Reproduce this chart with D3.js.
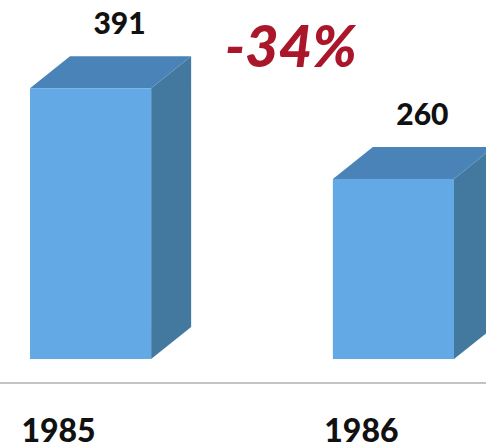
<!DOCTYPE html>
<html>
<head>
<meta charset="utf-8">
<script src="https://cdn.jsdelivr.net/npm/d3@7"></script>
<style>
  body { margin: 0; background: #fff; }
  text { font-family: Lato, "Open Sans", sans-serif; font-weight: 900; }
</style>
</head>
<body>
<script>
// data
const years = ["1985", "1986"];
const counts = [391, 260];
const changeLabel = "-34%";

let w = 486, h = 448;
let svg = d3.select("body").append("svg").attr("width", w).attr("height", h);

// depth of the 3d box
const dx = 40, dy = -32;
const floorY = 359;

const x = d3.scaleBand()
    .domain(years)
    .range([30, 454])
    .paddingInner(0.6)
    .paddingOuter(0);

const y = d3.scaleLinear()
    .domain([0, 400])
    .range([floorY, 82]);

const data = years.map((d, i) => ({ year: d, value: counts[i] }));

// axis line
svg.append("line")
    .attr("x1", 0).attr("x2", w)
    .attr("y1", 383).attr("y2", 383)
    .attr("stroke", "#c4c4c4")
    .attr("stroke-width", 2);

const bars = svg.selectAll(".bar")
    .data(data)
    .enter().append("g")
    .attr("class", "bar");

// side face
bars.append("path")
    .attr("d", d => {
        const x1 = x(d.year) + x.bandwidth(), t = y(d.value);
        return `M${x1},${t} L${x1 + dx},${t + dy} L${x1 + dx},${floorY + dy} L${x1},${floorY} Z`;
    })
    .attr("fill", "#44799f");

// top face
bars.append("path")
    .attr("d", d => {
        const x0 = x(d.year), x1 = x0 + x.bandwidth(), t = y(d.value);
        return `M${x0},${t} L${x0 + dx},${t + dy} L${x1 + dx},${t + dy} L${x1},${t} Z`;
    })
    .attr("fill", "#4a83b8");

// front face
bars.append("rect")
    .attr("x", d => x(d.year))
    .attr("y", d => y(d.value))
    .attr("width", x.bandwidth())
    .attr("height", d => floorY - y(d.value))
    .attr("fill", "#62a9e6");

// value labels
bars.append("text")
    .attr("x", d => x(d.year) + x.bandwidth() / 2 + 29)
    .attr("y", d => y(d.value) - 54)
    .attr("text-anchor", "middle")
    .attr("font-size", 30)
    .attr("fill", "#111")
    .text(d => d.value);

// category labels
svg.selectAll(".year")
    .data(years)
    .enter().append("text")
    .attr("class", "year")
    .attr("x", d => x(d) + x.bandwidth() / 2 - 32)
    .attr("y", 442)
    .attr("text-anchor", "middle")
    .attr("font-size", 32)
    .attr("fill", "#111")
    .text(d => d);

// change label
svg.append("text")
    .attr("x", 291)
    .attr("y", 67)
    .attr("text-anchor", "middle")
    .attr("font-size", 58)
    .attr("font-style", "italic")
    .attr("fill", "#aa172b")
    .text(changeLabel);
</script>
</body>
</html>
